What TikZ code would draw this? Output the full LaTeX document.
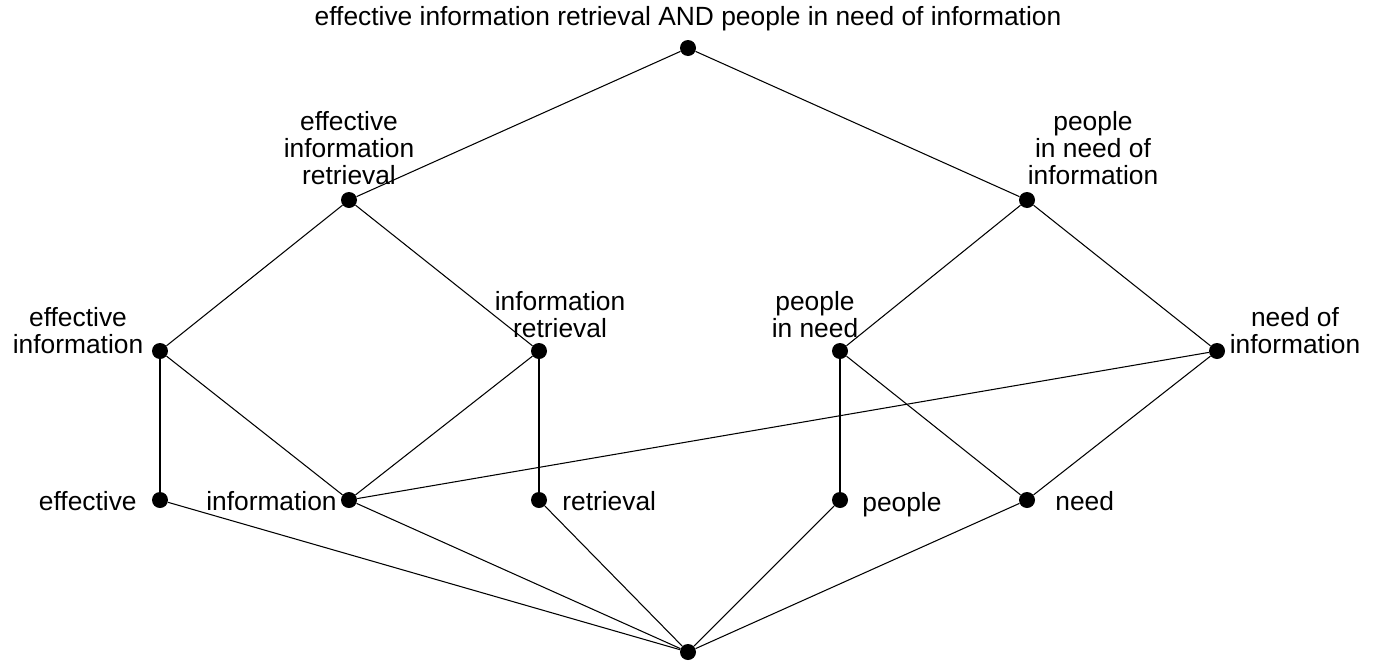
\documentclass[tikz,border=0pt]{standalone}
\usepackage{fontspec}
\setmainfont{Liberation Sans}
\usetikzlibrary{positioning}

\tikzset{
  dot/.style={circle, fill=black, inner sep=0pt, minimum size=0.32cm},
  lbl/.style={align=center, inner sep=0pt, font=\fontsize{15}{15.4}\selectfont},
  link/.style={line width=0.6pt}
}

\begin{document}
\begin{tikzpicture}[x=0.02cm, y=-0.02cm]

  \useasboundingbox (0,0) rectangle (1374,660);

  % lattice points
  \foreach \name/\x/\y in {top/688/48, eir/349/200, pnoi/1027/200,
      ei/160/351, ir/539/351, pin/840/351, noi/1217/351,
      eff/160/500, inf/349/500, ret/539/500, peo/840/500, nee/1027/500,
      bot/688/652} {
    \node[dot] (\name) at (\x,\y) {};
  }

  % labels
  \node[lbl] (ltop) at (688,19) {effective information retrieval AND people in need of information};
  \node[lbl] (leir) at (349,148) {effective\\information\\retrieval};
  \node[lbl] (lpnoi) at (1093,148) {people\\in need of\\information};
  \node[lbl] (lei) at (78,331) {effective\\information};
  \node[lbl] (lir) at (560,315) {information\\retrieval};
  \node[lbl] (lpin) at (815,315) {people\\in need};
  \node[lbl] (lnoi) at (1295,331) {need of\\information};
  \node[lbl, anchor=east] (leff) at (137,501) {effective};
  \node[lbl, anchor=east] (linf) at (337,501) {information};
  \node[lbl, anchor=west] (lret) at (562,501) {retrieval};
  \node[lbl, anchor=west] (lpeo) at (862,505) {people};
  \node[lbl, anchor=west] (lnee) at (1055,501) {need};

  % order relations
  \foreach \a/\b in {top/eir, top/pnoi, eir/ei, eir/ir, pnoi/pin, pnoi/noi,
      ei/eff, ei/inf, ir/inf, ir/ret, pin/peo, pin/nee, noi/inf, noi/nee,
      bot/eff, bot/inf, bot/ret, bot/peo, bot/nee} {
    \draw[link] (\a) -- (\b);
  }

\end{tikzpicture}
\end{document}
